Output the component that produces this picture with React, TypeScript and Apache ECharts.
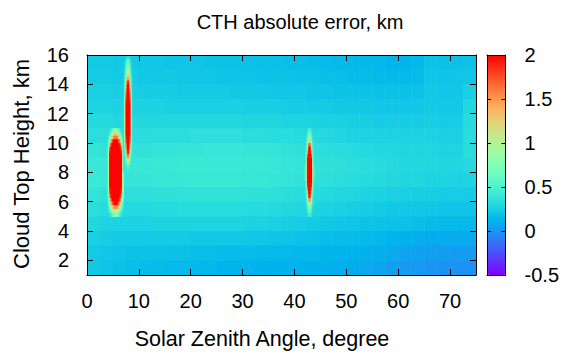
import React, { useEffect, useRef } from 'react';
import * as echarts from 'echarts';

const xTicks = [0, 10, 20, 30, 40, 50, 60, 70];
const yTicks = [2, 4, 6, 8, 10, 12, 14, 16];

// Background field: cells 2.5 deg wide x 1 km tall, rows from top (15-16 km) to bottom (1-2 km)
const bgRows = [
  [0.23,0.23,0.22,0.22,0.21,0.21,0.20,0.20,0.20,0.19,0.19,0.19,0.18,0.18,0.18,0.17,0.17,0.16,0.16,0.15,0.15,0.14,0.14,0.13,0.13,0.14,0.19,0.18,0.18,0.19],
  [0.24,0.24,0.23,0.23,0.22,0.22,0.22,0.21,0.21,0.21,0.20,0.20,0.20,0.19,0.19,0.19,0.18,0.18,0.17,0.17,0.16,0.16,0.15,0.15,0.15,0.16,0.21,0.20,0.20,0.21],
  [0.26,0.26,0.25,0.25,0.24,0.24,0.24,0.23,0.23,0.23,0.23,0.22,0.22,0.22,0.21,0.21,0.21,0.20,0.20,0.19,0.19,0.19,0.18,0.18,0.18,0.19,0.22,0.21,0.21,0.26],
  [0.28,0.28,0.27,0.27,0.27,0.27,0.26,0.26,0.26,0.26,0.26,0.26,0.25,0.25,0.25,0.24,0.24,0.23,0.23,0.22,0.22,0.22,0.21,0.21,0.21,0.21,0.23,0.22,0.22,0.30],
  [0.31,0.31,0.30,0.30,0.30,0.30,0.30,0.30,0.30,0.30,0.30,0.30,0.29,0.29,0.29,0.28,0.28,0.27,0.26,0.26,0.25,0.25,0.24,0.24,0.24,0.24,0.25,0.24,0.24,0.32],
  [0.34,0.34,0.33,0.33,0.33,0.34,0.34,0.34,0.35,0.35,0.35,0.35,0.34,0.34,0.33,0.33,0.32,0.31,0.30,0.29,0.28,0.28,0.27,0.27,0.27,0.27,0.27,0.26,0.26,0.33],
  [0.38,0.37,0.37,0.37,0.37,0.38,0.38,0.39,0.39,0.40,0.40,0.40,0.39,0.39,0.38,0.37,0.36,0.35,0.34,0.33,0.32,0.31,0.30,0.30,0.29,0.29,0.29,0.28,0.28,0.33],
  [0.41,0.40,0.40,0.40,0.40,0.41,0.41,0.42,0.42,0.42,0.42,0.42,0.41,0.41,0.40,0.39,0.38,0.37,0.36,0.35,0.34,0.33,0.32,0.31,0.30,0.30,0.30,0.29,0.29,0.31],
  [0.42,0.40,0.39,0.39,0.39,0.40,0.40,0.41,0.41,0.41,0.41,0.41,0.40,0.40,0.39,0.38,0.37,0.36,0.35,0.34,0.33,0.32,0.31,0.30,0.29,0.29,0.28,0.28,0.27,0.28],
  [0.38,0.36,0.35,0.35,0.35,0.36,0.36,0.37,0.37,0.37,0.37,0.37,0.36,0.36,0.35,0.34,0.33,0.32,0.31,0.30,0.29,0.28,0.27,0.26,0.26,0.25,0.25,0.24,0.24,0.24],
  [0.34,0.32,0.31,0.31,0.31,0.32,0.32,0.33,0.33,0.33,0.33,0.33,0.32,0.32,0.31,0.30,0.29,0.28,0.27,0.26,0.25,0.24,0.23,0.22,0.22,0.21,0.21,0.20,0.20,0.20],
  [0.30,0.28,0.27,0.27,0.27,0.28,0.28,0.28,0.28,0.28,0.28,0.28,0.27,0.27,0.26,0.25,0.24,0.23,0.22,0.21,0.20,0.19,0.19,0.18,0.18,0.17,0.16,0.15,0.15,0.15],
  [0.26,0.24,0.23,0.23,0.23,0.23,0.23,0.23,0.22,0.22,0.22,0.22,0.21,0.21,0.20,0.20,0.19,0.18,0.17,0.16,0.16,0.15,0.14,0.13,0.11,0.10,0.09,0.09,0.08,0.08],
  [0.23,0.21,0.20,0.19,0.19,0.19,0.18,0.18,0.17,0.17,0.16,0.16,0.16,0.15,0.15,0.15,0.14,0.14,0.13,0.13,0.12,0.11,0.10,0.08,0.06,0.05,0.04,0.03,0.03,0.02],
  [0.22,0.20,0.18,0.17,0.16,0.16,0.15,0.15,0.14,0.14,0.13,0.13,0.13,0.12,0.12,0.12,0.12,0.11,0.11,0.10,0.09,0.08,0.06,0.04,0.02,0.01,0.00,-0.01,-0.01,-0.02],
];

// Blob near 5.5 deg: 0.25 deg x 0.25 km cells, x from 4.0, rows from 11 km down to 5 km
const blob1Rows = [
  [0.34,0.34,0.45,0.60,0.75,0.85,0.85,0.75,0.60,0.45,0.34,0.34],
  [0.34,0.45,0.65,0.90,1.15,1.25,1.25,1.15,0.90,0.65,0.45,0.34],
  [0.45,0.70,1.00,1.30,1.55,1.65,1.65,1.55,1.30,1.00,0.70,0.45],
  [0.55,0.95,1.40,1.80,2.00,2.00,2.00,2.00,1.80,1.40,0.95,0.55],
  [0.70,1.30,1.85,2.00,2.00,2.00,2.00,2.00,2.00,1.85,1.30,0.70],
  [0.85,1.70,2.00,2.00,2.00,2.00,2.00,2.00,2.00,2.00,1.70,0.85],
  [0.95,1.90,2.00,2.00,2.00,2.00,2.00,2.00,2.00,2.00,1.90,0.95],
  [1.00,2.00,2.00,2.00,2.00,2.00,2.00,2.00,2.00,2.00,2.00,1.00],
  [1.00,2.00,2.00,2.00,2.00,2.00,2.00,2.00,2.00,2.00,2.00,1.00],
  [1.00,2.00,2.00,2.00,2.00,2.00,2.00,2.00,2.00,2.00,2.00,1.00],
  [1.00,2.00,2.00,2.00,2.00,2.00,2.00,2.00,2.00,2.00,2.00,1.00],
  [1.00,2.00,2.00,2.00,2.00,2.00,2.00,2.00,2.00,2.00,2.00,1.00],
  [1.00,2.00,2.00,2.00,2.00,2.00,2.00,2.00,2.00,2.00,2.00,1.00],
  [1.00,2.00,2.00,2.00,2.00,2.00,2.00,2.00,2.00,2.00,2.00,1.00],
  [1.00,2.00,2.00,2.00,2.00,2.00,2.00,2.00,2.00,2.00,2.00,1.00],
  [1.00,2.00,2.00,2.00,2.00,2.00,2.00,2.00,2.00,2.00,2.00,1.00],
  [0.95,1.90,2.00,2.00,2.00,2.00,2.00,2.00,2.00,2.00,1.90,0.95],
  [0.90,1.80,2.00,2.00,2.00,2.00,2.00,2.00,2.00,2.00,1.80,0.90],
  [0.80,1.55,1.95,2.00,2.00,2.00,2.00,2.00,2.00,1.95,1.55,0.80],
  [0.65,1.20,1.70,2.00,2.00,2.00,2.00,2.00,2.00,1.70,1.20,0.65],
  [0.55,0.95,1.35,1.70,1.90,2.00,2.00,1.90,1.70,1.35,0.95,0.55],
  [0.45,0.70,1.00,1.25,1.45,1.55,1.55,1.45,1.25,1.00,0.70,0.45],
  [0.34,0.50,0.70,0.90,1.05,1.10,1.10,1.05,0.90,0.70,0.50,0.34],
  [0.32,0.36,0.45,0.60,0.70,0.75,0.75,0.70,0.60,0.45,0.36,0.32],
];

// Blob near 7.9 deg: 0.25 deg x 0.25 km cells, x from 6.9, rows from 16 km down to 8 km
const blob2Rows = [
  [0.23,0.23,0.26,0.33,0.33,0.26,0.23,0.23],
  [0.23,0.24,0.40,0.55,0.55,0.40,0.24,0.23],
  [0.24,0.28,0.50,0.70,0.70,0.50,0.28,0.24],
  [0.24,0.30,0.60,0.85,0.85,0.60,0.30,0.24],
  [0.25,0.35,0.70,1.00,1.00,0.70,0.35,0.25],
  [0.25,0.40,0.80,1.20,1.20,0.80,0.40,0.25],
  [0.26,0.45,0.90,1.50,1.50,0.90,0.45,0.26],
  [0.26,0.50,1.10,1.90,1.90,1.10,0.50,0.26],
  [0.27,0.55,1.30,2.00,2.00,1.30,0.55,0.27],
  [0.27,0.60,1.50,2.00,2.00,1.50,0.60,0.27],
  [0.28,0.70,1.70,2.00,2.00,1.70,0.70,0.28],
  [0.28,0.80,1.80,2.00,2.00,1.80,0.80,0.28],
  [0.29,0.90,1.90,2.00,2.00,1.90,0.90,0.29],
  [0.30,1.00,2.00,2.00,2.00,2.00,1.00,0.30],
  [0.30,1.10,2.00,2.00,2.00,2.00,1.10,0.30],
  [0.31,1.10,2.00,2.00,2.00,2.00,1.10,0.31],
  [0.32,1.10,2.00,2.00,2.00,2.00,1.10,0.32],
  [0.33,1.10,2.00,2.00,2.00,2.00,1.10,0.33],
  [0.34,1.10,2.00,2.00,2.00,2.00,1.10,0.34],
  [0.35,1.10,2.00,2.00,2.00,2.00,1.10,0.35],
  [0.35,1.10,2.00,2.00,2.00,2.00,1.10,0.35],
  [0.36,1.00,2.00,2.00,2.00,2.00,1.00,0.36],
  [0.37,0.90,1.90,2.00,2.00,1.90,0.90,0.37],
  [0.37,0.80,1.80,2.00,2.00,1.80,0.80,0.37],
  [0.38,0.70,1.60,2.00,2.00,1.60,0.70,0.38],
  [0.38,0.60,1.40,2.00,2.00,1.40,0.60,0.38],
  [0.39,0.50,1.10,1.90,1.90,1.10,0.50,0.39],
  [0.39,0.45,0.90,1.60,1.60,0.90,0.45,0.39],
  [0.40,0.42,0.70,1.20,1.20,0.70,0.42,0.40],
  [0.40,0.41,0.50,0.80,0.80,0.50,0.41,0.40],
  [0.40,0.40,0.42,0.50,0.50,0.42,0.40,0.40],
  [0.40,0.40,0.40,0.42,0.42,0.40,0.40,0.40],
];

// Blob near 42.9 deg: 0.25 deg x 0.25 km cells, x from 41.9, rows from 11 km down to 5 km
const blob3Rows = [
  [0.31,0.31,0.38,0.50,0.50,0.38,0.31,0.31],
  [0.31,0.32,0.45,0.65,0.65,0.45,0.32,0.31],
  [0.32,0.35,0.55,0.85,0.85,0.55,0.35,0.32],
  [0.33,0.42,0.70,1.20,1.20,0.70,0.42,0.33],
  [0.34,0.45,0.90,1.70,1.70,0.90,0.45,0.34],
  [0.35,0.50,1.20,2.00,2.00,1.20,0.50,0.35],
  [0.35,0.60,1.50,2.00,2.00,1.50,0.60,0.35],
  [0.36,0.70,1.80,2.00,2.00,1.80,0.70,0.36],
  [0.36,0.80,2.00,2.00,2.00,2.00,0.80,0.36],
  [0.37,0.90,2.00,2.00,2.00,2.00,0.90,0.37],
  [0.45,1.00,2.00,2.00,2.00,2.00,1.00,0.45],
  [0.45,1.00,2.00,2.00,2.00,2.00,1.00,0.45],
  [0.45,1.00,2.00,2.00,2.00,2.00,1.00,0.45],
  [0.45,1.00,2.00,2.00,2.00,2.00,1.00,0.45],
  [0.36,0.90,2.00,2.00,2.00,2.00,0.90,0.36],
  [0.35,0.80,1.90,2.00,2.00,1.90,0.80,0.35],
  [0.34,0.70,1.70,2.00,2.00,1.70,0.70,0.34],
  [0.33,0.60,1.40,2.00,2.00,1.40,0.60,0.33],
  [0.32,0.50,1.10,1.90,1.90,1.10,0.50,0.32],
  [0.31,0.45,0.90,1.50,1.50,0.90,0.45,0.31],
  [0.30,0.40,0.70,1.10,1.10,0.70,0.40,0.30],
  [0.29,0.33,0.55,0.80,0.80,0.55,0.33,0.29],
  [0.28,0.30,0.45,0.60,0.60,0.45,0.30,0.28],
  [0.28,0.28,0.35,0.45,0.45,0.35,0.28,0.28],
];

function cells(rows: number[][], x0: number, dx: number, yTop: number, dy: number) {
  const out: number[][] = [];
  rows.forEach((row, r) =>
    row.forEach((v, c) => {
      out.push([x0 + c * dx, x0 + (c + 1) * dx, yTop - (r + 1) * dy, yTop - r * dy, v]);
    })
  );
  return out;
}

// gnuplot rgbformulae 33,13,10 palette
function paletteColors(n: number) {
  const cl = (v: number) => Math.max(0, Math.min(1, v));
  const out: string[] = [];
  for (let i = 0; i <= n; i++) {
    const t = i / n;
    const r = cl(Math.abs(2 * t - 0.5));
    const g = cl(Math.sin(Math.PI * t));
    const b = cl(Math.cos((Math.PI * t) / 2));
    out.push(`rgb(${Math.round(r * 255)},${Math.round(g * 255)},${Math.round(b * 255)})`);
  }
  return out;
}

const FONT = 'Liberation Sans, Arial, sans-serif';

export default function App() {
  const ref = useRef<HTMLDivElement>(null);
  useEffect(() => {
    if (!ref.current) return;
    const chart = echarts.init(ref.current, undefined, { renderer: 'svg' });
    const data = [
      ...cells(bgRows, 0, 2.5, 16, 1),
      ...cells(blob1Rows, 4.0, 0.25, 11, 0.25),
      ...cells(blob2Rows, 6.9, 0.25, 16, 0.25),
      ...cells(blob3Rows, 41.9, 0.25, 11, 0.25),
    ];
    const axisLine = { show: true, onZero: false, lineStyle: { color: '#000', width: 1 } };
    const tickStyle = { color: '#000', width: 1 };
    const labelStyle = { color: '#000', fontSize: 20, fontFamily: FONT };
    chart.setOption({
      animation: false,
      backgroundColor: '#fff',
      graphic: [
        {
          type: 'text', x: 300, y: 22, z: 20,
          style: { text: 'CTH absolute error, km', fill: '#000', fontSize: 20, fontFamily: FONT, textAlign: 'center', textVerticalAlign: 'middle' },
        },
        {
          type: 'text', x: 262, y: 339, z: 20,
          style: { text: 'Solar Zenith Angle, degree', fill: '#000', fontSize: 21.5, fontFamily: FONT, textAlign: 'center', textVerticalAlign: 'middle' },
        },
        {
          type: 'text', x: 21, y: 164, rotation: Math.PI / 2, z: 20,
          style: { text: 'Cloud Top Height, km', fill: '#000', fontSize: 22, fontFamily: FONT, textAlign: 'center', textVerticalAlign: 'middle' },
        },
      ],
      grid: [
        { left: 87, top: 55, width: 389, height: 220 },
        { left: 487, top: 55, width: 19, height: 220 },
      ],
      xAxis: [
        {
          gridIndex: 0, type: 'value', min: 0, max: 75, position: 'bottom', z: 10,
          axisLine, splitLine: { show: false },
          axisTick: { inside: true, length: 6, customValues: xTicks, lineStyle: tickStyle },
          axisLabel: { ...labelStyle, customValues: xTicks, margin: 16 },
        },
        {
          gridIndex: 0, type: 'value', min: 0, max: 75, position: 'top', z: 10,
          axisLine, splitLine: { show: false },
          axisTick: { inside: true, length: 6, customValues: xTicks, lineStyle: tickStyle },
          axisLabel: { show: false },
        },
        {
          gridIndex: 1, type: 'value', min: 0, max: 1, position: 'bottom', z: 10,
          axisLine, splitLine: { show: false }, axisTick: { show: false }, axisLabel: { show: false },
        },
        {
          gridIndex: 1, type: 'value', min: 0, max: 1, position: 'top', z: 10,
          axisLine, splitLine: { show: false }, axisTick: { show: false }, axisLabel: { show: false },
        },
      ],
      yAxis: [
        {
          gridIndex: 0, type: 'value', min: 1, max: 16, position: 'left', z: 10,
          axisLine, splitLine: { show: false },
          axisTick: { inside: true, length: 6, customValues: yTicks, lineStyle: tickStyle },
          axisLabel: { ...labelStyle, customValues: yTicks, margin: 18 },
        },
        {
          gridIndex: 0, type: 'value', min: 1, max: 16, position: 'right', z: 10,
          axisLine, splitLine: { show: false },
          axisTick: { inside: true, length: 6, customValues: yTicks, lineStyle: tickStyle },
          axisLabel: { show: false },
        },
        {
          gridIndex: 1, type: 'value', min: -0.5, max: 2, interval: 0.5, position: 'left', z: 10,
          axisLine, splitLine: { show: false },
          axisTick: { inside: true, length: 4, lineStyle: tickStyle },
          axisLabel: { show: false },
        },
        {
          gridIndex: 1, type: 'value', min: -0.5, max: 2, interval: 0.5, position: 'right', z: 10,
          axisLine, splitLine: { show: false },
          axisTick: { inside: true, length: 4, lineStyle: tickStyle },
          axisLabel: { ...labelStyle, margin: 19 },
        },
      ],
      visualMap: {
        type: 'continuous',
        min: -0.5,
        max: 2,
        dimension: 4,
        seriesIndex: 0,
        calculable: false,
        hoverLink: false,
        left: 487,
        top: 55,
        itemWidth: 19,
        itemHeight: 220,
        padding: 0,
        text: ['', ''],
        showLabel: false,
        inRange: { color: paletteColors(60) },
      },
      series: [
        {
          type: 'custom',
          xAxisIndex: 0,
          yAxisIndex: 0,
          clip: true,
          silent: true,
          encode: { x: [0, 1], y: [2, 3] },
          data,
          renderItem: (_params: any, api: any) => {
            const a = api.coord([api.value(0), api.value(3)]);
            const b = api.coord([api.value(1), api.value(2)]);
            return {
              type: 'rect',
              shape: { x: a[0], y: a[1], width: b[0] - a[0] + 0.6, height: b[1] - a[1] + 0.6 },
              style: { fill: api.visual('color') },
            };
          },
        },
      ],
    });
    return () => chart.dispose();
  }, []);
  return (
    <div
      ref={ref}
      style={{ position: 'fixed', left: 0, top: 0, width: 562, height: 353, background: '#fff' }}
    />
  );
}
